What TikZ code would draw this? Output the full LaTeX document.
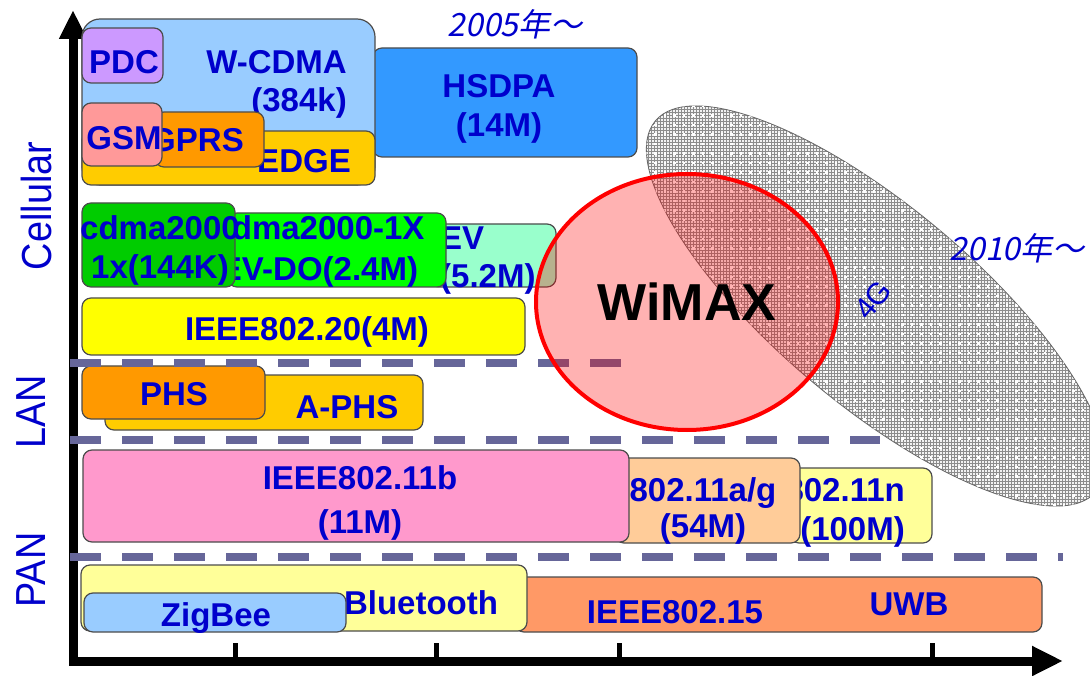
\documentclass[tikz,border=0pt]{standalone}
\usepackage{fontspec}
\setmainfont{Liberation Sans}
\newfontfamily\cjkfont[FakeSlant=0.2]{Noto Sans CJK JP}
\newfontfamily\axisfont[FakeStretch=0.9]{Liberation Sans}
\usepackage{tikz}
\usetikzlibrary{positioning, arrows.meta, shapes.geometric, patterns}

\definecolor{txtblue}{RGB}{0,0,204}
\definecolor{sepgray}{RGB}{102,102,153}
\definecolor{wcdmac}{RGB}{153,204,255}
\definecolor{hsdpac}{RGB}{51,153,255}
\definecolor{pdcc}{RGB}{204,153,255}
\definecolor{edgec}{RGB}{255,204,0}
\definecolor{gsmc}{RGB}{255,153,153}
\definecolor{gprsc}{RGB}{255,153,0}
\definecolor{cdmac}{RGB}{0,204,0}
\definecolor{evdoc}{RGB}{0,255,0}
\definecolor{evdvc}{RGB}{153,255,204}
\definecolor{mbwac}{RGB}{255,255,0}
\definecolor{phsc}{RGB}{255,153,0}
\definecolor{aphsc}{RGB}{255,204,0}
\definecolor{wlanbc}{RGB}{255,153,204}
\definecolor{wlanagc}{RGB}{255,204,153}
\definecolor{wlannc}{RGB}{255,255,153}
\definecolor{btc}{RGB}{255,255,153}
\definecolor{uwbc}{RGB}{255,153,102}
\definecolor{zigc}{RGB}{153,204,255}

\pgfdeclarepatternformonly{whitedots}{\pgfqpoint{-1.5pt}{-1.5pt}}{\pgfqpoint{1.5pt}{1.5pt}}{\pgfqpoint{9.5pt}{9.5pt}}{%
	\pgfpathrectangle{\pgfqpoint{-1.2pt}{-1.2pt}}{\pgfqpoint{2.4pt}{2.4pt}}\pgfusepath{fill}}

\tikzset{
	box/.style={draw=black!70, line width=1.2pt, rounded corners=9pt}, % every technology box
	lbl/.style={font=\fontsize{33}{39}\bfseries\selectfont, text=txtblue, inner sep=0pt, anchor=base}, % text inside the boxes
	era/.style={font=\fontsize{32}{32}\cjkfont\selectfont, text=txtblue, inner sep=0pt, anchor=base}, % year marks
	layer/.style={font=\fontsize{42}{42}\axisfont\selectfont, text=txtblue, inner sep=0pt, rotate=90, anchor=base}, % names on the y axis
	sep/.style={line width=7.5pt, draw=sepgray, dash pattern=on 31pt off 21pt}, % dashed lines between the layers
	axis/.style={line width=9pt, {Triangle[length=29pt,width=26pt]}-{Triangle[length=31pt,width=28pt]}}, % the two axes
}

\begin{document}
\begin{tikzpicture}[x=1pt, y=-1pt]
			\useasboundingbox (0,0) rectangle (1090,676);
			
			% Axes
			\coordinate (ytop) at (73,10);
			\coordinate (origin) at (73,661);
			\coordinate (xend) at (1063,661);
			\draw[axis] (ytop) -- (origin) -- (xend);
			\foreach \tx in {235,436,619,932}
				\draw[line width=5pt] (\tx,643) -- (\tx,658);
			
			\node[layer] (cell) at (51,206) {Cellular};
			\node[layer] (lan) at (45,412) {LAN};
			\node[layer] (pan) at (45,570) {PAN};
			
			% Cellular boxes
			\filldraw[box, fill=hsdpac] (373,48) rectangle (637,157);
			\node[lbl] (hsdpa) at (499,98) {HSDPA};
			\node[lbl, below=39pt of hsdpa.base, anchor=base] (hsdparate) {(14M)};
			\filldraw[box, fill=wcdmac, rounded corners=18pt] (82,19) rectangle (375,185);
			\node[lbl, anchor=base east] (wcdma) at (347,74) {W-CDMA};
			\node[lbl, below=38pt of wcdma.base east, anchor=base east] (wcdmarate) {(384k)};
			\filldraw[box, fill=pdcc] (82,28) rectangle (163,83);
			\node[lbl] (pdc) at (124,74) {PDC};
			\filldraw[box, fill=edgec] (82,131) rectangle (375,185);
			\node[lbl] (edge) at (304,173) {EDGE};
			\filldraw[box, fill=gprsc] (155,112) rectangle (264,167);
			\node[lbl] (gprs) at (197,152) {GPRS};
			\filldraw[box, fill=gsmc] (82,103) rectangle (162,166);
			\node[lbl] (gsm) at (124,150) {GSM};
			\node[era] (era1) at (515,37) {2005年～};
			
			\filldraw[box, fill=evdvc] (430,224) rectangle (556,287);
			\node[lbl, anchor=base west] (evdv) at (440,250) {EV};
			\node[lbl, below=38pt of evdv.base west, anchor=base west] (evdvrate) {(5.2M)};
			\filldraw[box, fill=evdoc] (228,213) rectangle (446,287);
			\node[lbl] (evdo) at (319,240) {cdma2000-1X};
			\node[lbl, below=41pt of evdo.base, anchor=base] (evdorate) {EV-DO(2.4M)};
			\filldraw[box, fill=cdmac] (82,203) rectangle (235,287);
			\node[lbl] (cdma) at (160,240) {cdma2000};
			\node[lbl, below=39pt of cdma.base, anchor=base] (cdmarate) {1x(144K)};
			
			\filldraw[box, fill=mbwac] (82,298) rectangle (525,355);
			\node[lbl] (mbwa) at (307,341) {IEEE802.20(4M)};
			
			% LAN boxes
			\filldraw[box, fill=aphsc] (105,375) rectangle (423,430);
			\node[lbl] (aphs) at (347,418) {A-PHS};
			\filldraw[box, fill=phsc] (82,366) rectangle (265,419);
			\node[lbl] (phs) at (174,406) {PHS};
			
			\filldraw[box, fill=wlannc] (790,468) rectangle (932,543);
			\node[lbl, anchor=base east] (wlann) at (905,501) {802.11n};
			\node[lbl, below=39pt of wlann.base east, anchor=base east] (wlannrate) {(100M)};
			\filldraw[box, fill=wlanagc] (615,458) rectangle (800,543);
			\node[lbl] (wlanag) at (703,501) {802.11a/g};
			\node[lbl, below=36pt of wlanag.base, anchor=base] (wlanagrate) {(54M)};
			\filldraw[box, fill=wlanbc] (83,450) rectangle (629,542);
			\node[lbl] (wlanb) at (360,489) {IEEE802.11b};
			\node[lbl, below=44pt of wlanb.base, anchor=base] (wlanbrate) {(11M)};
			
			% PAN boxes
			\filldraw[box, fill=uwbc] (515,577) rectangle (1042,632);
			\node[lbl] (wpan) at (675,623) {IEEE802.15};
			\node[lbl] (uwb) at (909,615) {UWB};
			\filldraw[box, fill=btc] (81,565) rectangle (527,631);
			\node[lbl] (bt) at (421,614) {Bluetooth};
			\filldraw[box, fill=zigc] (84,593) rectangle (346,632);
			\node[lbl] (zig) at (216,626) {ZigBee};
			
			% 4G and WiMAX
			\node[ellipse, minimum width=576pt, minimum height=198pt, rotate=-40, draw=black!60, line width=0.8pt,
				preaction={fill=gray!10}, pattern=grid, pattern color=black!45,
				postaction={pattern=whitedots, pattern color=white}] (fourg) at (876,306) {};
			\node[text=txtblue, font=\fontsize{30}{30}\selectfont, rotate=50, inner sep=0pt] (fourglbl) at (873,300) {4G};
			\node[era] (era2) at (1017,261) {2010年～};
			
			\foreach \yy/\xe in {363/621, 440/880, 557/1063}
				\draw[sep] (70,\yy) -- (\xe,\yy);
			
			\node[ellipse, minimum width=302pt, minimum height=256pt, draw=red, line width=4pt, fill=red,
				fill opacity=0.3, text opacity=1, font=\fontsize{52}{52}\bfseries\selectfont, inner sep=0pt] (wimax) at (687,302) {WiMAX};
		\end{tikzpicture}
\end{document}
